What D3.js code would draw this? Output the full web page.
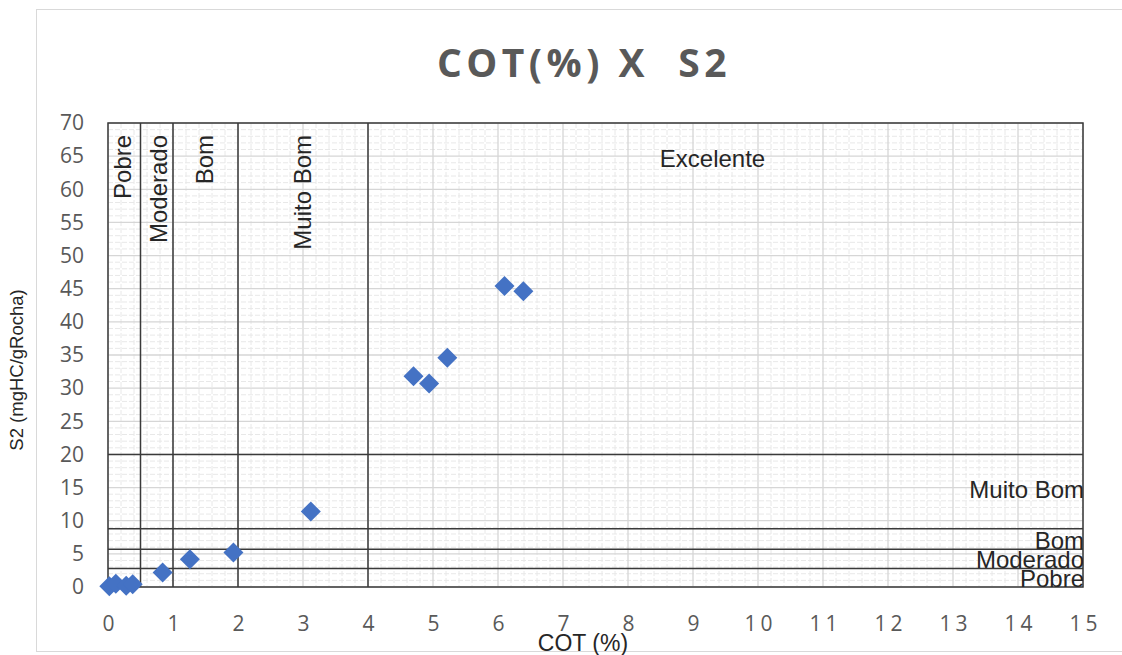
<!DOCTYPE html>
<html>
<head>
<meta charset="utf-8">
<script src="https://cdn.jsdelivr.net/npm/d3@7"></script>
<style>
  body { margin: 0; background: #fff; }
  svg { display: block; }
</style>
</head>
<body>
<svg></svg>
<script>
// data
const cot = [0.02, 0.12, 0.28, 0.38, 0.84, 1.26, 1.93, 3.12, 4.70, 4.94, 5.22, 6.10, 6.39];
const s2  = [0.1, 0.5, 0.2, 0.4, 2.2, 4.2, 5.2, 11.4, 31.8, 30.7, 34.6, 45.4, 44.6];

const xTicks = d3.range(0, 16);
const yTicks = d3.range(0, 75, 5);

// class limits (COT and S2)
const cotLimits = [0.5, 1, 2, 4];
const s2Limits = [2.8, 5.7, 8.8, 20];
const cotClasses = ['Pobre', 'Moderado', 'Bom', 'Muito Bom'];
const cotLabelX = [0.36, 0.91, 1.62, 3.12];
const s2Classes = ['Pobre', 'Moderado', 'Bom', 'Muito Bom'];
const s2LabelY = [0, 2.8, 5.7, 13.4];

const W = 1122, H = 655;
const pLeft = 108, pRight = 1083, pTop = 123, pBottom = 587;

const svg = d3.select('svg')
    .attr('width', W)
    .attr('height', H);

const x = d3.scaleLinear().domain([0, 15]).range([pLeft, pRight]);
const y = d3.scaleLinear().domain([0, 70]).range([pBottom, pTop]);

// chart frame
svg.append('rect')
    .attr('x', 36.5).attr('y', 9.5)
    .attr('width', 1100).attr('height', 642)
    .attr('fill', 'none')
    .attr('stroke', '#d9d9d9');

svg.append('text')
    .attr('x', 584)
    .attr('y', 77)
    .attr('text-anchor', 'middle')
    .style('white-space', 'pre')
    .attr('font-family', 'Open Sans')
    .attr('font-weight', 'bold')
    .attr('font-size', 39)
    .attr('letter-spacing', 4.5)
    .attr('fill', '#595959')
    .text('COT(%) X  S2');

svg.append('clipPath').attr('id', 'plot')
  .append('rect')
    .attr('x', pLeft).attr('y', pTop)
    .attr('width', pRight - pLeft).attr('height', pBottom - pTop);

const grid = svg.append('g');

// minor grid
grid.selectAll('.vminor')
  .data(d3.range(0, 15.01, 0.2).filter(v => Math.abs(v - Math.round(v)) > 0.01))
  .join('line')
    .attr('x1', d => x(d)).attr('x2', d => x(d))
    .attr('y1', pTop).attr('y2', pBottom)
    .attr('stroke', '#e8e8e8')
    .attr('stroke-dasharray', '5,2');

grid.selectAll('.hminor')
  .data(d3.range(0, 71).filter(v => v % 5 !== 0))
  .join('line')
    .attr('x1', pLeft).attr('x2', pRight)
    .attr('y1', d => y(d)).attr('y2', d => y(d))
    .attr('stroke', '#e8e8e8')
    .attr('stroke-dasharray', '5,2');

// major grid
grid.selectAll('.vmajor')
  .data(xTicks)
  .join('line')
    .attr('x1', d => x(d)).attr('x2', d => x(d))
    .attr('y1', pTop).attr('y2', pBottom)
    .attr('stroke', '#d6d6d6')
    .attr('stroke-width', 1.3);

grid.selectAll('.hmajor')
  .data(yTicks)
  .join('line')
    .attr('x1', pLeft).attr('x2', pRight)
    .attr('y1', d => y(d)).attr('y2', d => y(d))
    .attr('stroke', '#d6d6d6')
    .attr('stroke-width', 1.3);

// class lines
const zones = svg.append('g')
    .attr('stroke', '#3a3a3a')
    .attr('stroke-width', 1.5);

zones.selectAll('.v')
  .data(cotLimits)
  .join('line')
    .attr('x1', d => x(d)).attr('x2', d => x(d))
    .attr('y1', y(0)).attr('y2', y(70));

zones.selectAll('.h')
  .data(s2Limits)
  .join('line')
    .attr('x1', x(0)).attr('x2', x(15))
    .attr('y1', d => y(d)).attr('y2', d => y(d));

svg.append('rect')
    .attr('x', pLeft).attr('y', pTop)
    .attr('width', pRight - pLeft).attr('height', pBottom - pTop)
    .attr('fill', 'none')
    .attr('stroke', '#3a3a3a')
    .attr('stroke-width', 1.5);

// class labels
const labels = svg.append('g')
    .attr('clip-path', 'url(#plot)')
    .attr('font-family', 'Liberation Sans, Arial')
    .attr('font-size', 24)
    .attr('fill', '#262626');

labels.selectAll('.vl')
  .data(cotClasses)
  .join('text')
    .attr('transform', (d, i) => `translate(${x(cotLabelX[i])},${y(68.2)}) rotate(-90)`)
    .attr('text-anchor', 'end')
    .text(d => d);

labels.selectAll('.hl')
  .data(s2Classes)
  .join('text')
    .attr('x', x(15) + 1)
    .attr('y', (d, i) => y(s2LabelY[i]))
    .attr('text-anchor', 'end')
    .text(d => d);

labels.append('text')
    .attr('x', x(9.3))
    .attr('y', y(63.4))
    .attr('text-anchor', 'middle')
    .text('Excelente');

// axes
const xAxis = svg.append('g')
    .attr('transform', `translate(0,${pBottom})`)
    .call(d3.axisBottom(x).tickValues(xTicks).tickSize(0).tickPadding(29));

const yAxis = svg.append('g')
    .attr('transform', `translate(${pLeft},0)`)
    .call(d3.axisLeft(y).tickValues(yTicks).tickSize(0).tickPadding(24));

[xAxis, yAxis].forEach(a => {
  a.select('.domain').remove();
  a.selectAll('text')
      .attr('font-family', 'Open Sans')
      .attr('font-size', 21)
      .attr('fill', '#595959');
});
xAxis.selectAll('text').attr('letter-spacing', 4).attr('dx', 2);

// points
svg.append('g')
  .selectAll('path')
  .data(cot)
  .join('path')
    .attr('d', d3.symbol(d3.symbolSquare, 200))
    .attr('transform', (d, i) => `translate(${x(d)},${y(s2[i])}) rotate(45)`)
    .attr('fill', '#4472c4');

// axis titles
svg.append('text')
    .attr('x', 583)
    .attr('y', 651)
    .attr('text-anchor', 'middle')
    .attr('font-family', 'Liberation Sans, Arial')
    .attr('font-size', 23)
    .attr('fill', '#262626')
    .text('COT (%)');

svg.append('text')
    .attr('transform', 'translate(23,370) rotate(-90)')
    .attr('text-anchor', 'middle')
    .attr('font-family', 'Liberation Sans, Arial')
    .attr('font-size', 18.5)
    .attr('fill', '#262626')
    .text('S2 (mgHC/gRocha)');
</script>
</body>
</html>
